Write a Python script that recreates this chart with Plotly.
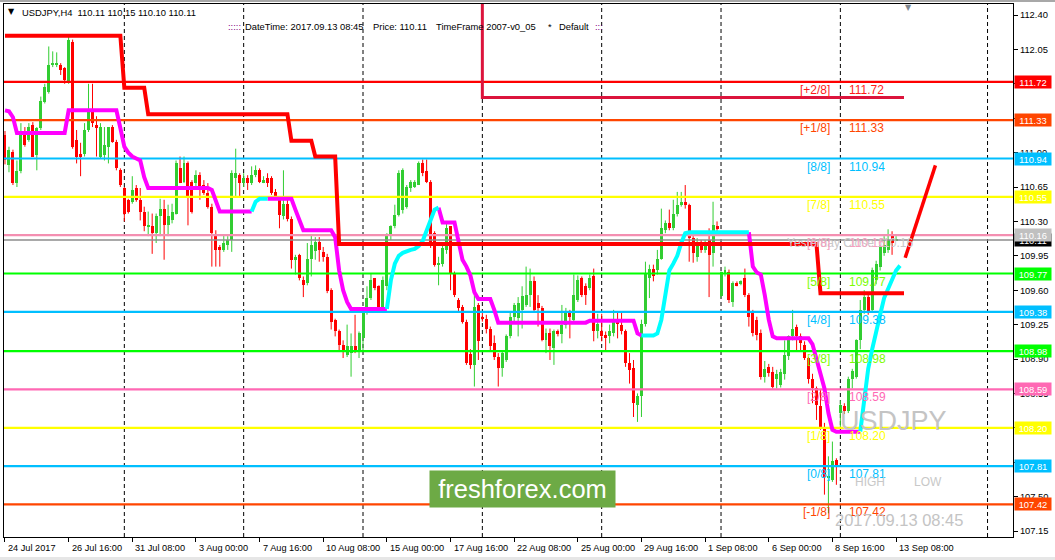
import plotly.graph_objects as go

# ---------------- data ----------------
opens = [111.18, 110.87, 111.01, 110.69, 110.81, 111.18, 111.13, 111.28, 110.98, 111.25,
         111.52, 111.62, 111.90, 111.90, 111.89, 111.86, 111.72, 112.13, 111.13, 110.99,
         110.99, 111.23, 111.42, 111.28, 110.96, 110.98, 111.06, 111.26, 111.11, 110.82,
         110.64, 110.52, 110.50, 110.64, 110.52, 110.40, 110.25, 110.25, 110.18, 110.35,
         110.43, 110.26, 110.31, 110.38, 110.84, 110.70, 110.89, 110.70, 110.69, 110.77,
         110.67, 110.59, 110.45, 110.15, 110.04, 110.01, 110.06, 110.11, 110.74, 110.77,
         110.69, 110.74, 110.69, 110.77, 110.82, 110.70, 110.74, 110.74, 110.60, 110.54,
         110.35, 110.48, 110.32, 109.91, 109.96, 109.70, 109.67, 109.92, 110.00, 110.09,
         109.99, 109.94, 109.60, 109.30, 109.18, 109.04, 108.94, 108.96, 109.03, 108.99,
         109.11, 109.37, 109.52, 109.72, 109.64, 109.43, 109.64, 110.16, 110.25, 110.37,
         110.42, 110.45, 110.64, 110.65, 110.67, 110.89, 110.81, 110.70, 110.18, 109.86,
         109.87, 110.01, 110.25, 109.77, 109.50, 109.43, 109.28, 108.95, 108.84, 109.45,
         109.33, 109.31, 109.21, 109.06, 108.92, 108.81, 108.89, 109.13, 109.33, 109.32,
         109.40, 109.45, 109.55, 109.69, 109.47, 109.42, 109.09, 109.16, 109.01, 109.18,
         109.15, 109.25, 109.37, 109.30, 109.50, 109.72, 109.64, 109.62, 109.74, 109.18,
         109.18, 109.14, 109.13, 109.16, 109.30, 109.25, 109.18, 108.86, 108.81, 108.43,
         108.52, 109.26, 109.72, 109.82, 109.81, 109.92, 110.21, 110.28, 110.23, 110.38,
         110.47, 110.50, 110.47, 110.13, 109.94, 110.09, 110.01, 110.11, 109.98, 110.25,
         109.54, 109.77, 109.79, 109.48, 109.67, 109.67, 109.72, 109.55, 109.38, 109.30,
         109.16, 108.72, 108.82, 108.77, 108.70, 108.64, 108.75, 108.93, 109.13, 109.23,
         109.13, 109.04, 108.91, 108.70, 108.60, 108.42, 108.21, 107.69, 107.67, 107.87,
         108.35, 108.42, 108.37, 108.70, 108.72, 109.09, 109.40, 109.53, 109.40, 109.70,
         109.84, 109.98, 110.01, 110.15, 110.11]

highs = [111.22, 111.06, 111.03, 110.92, 111.30, 111.26, 111.30, 111.31, 111.26, 111.57,
         111.70, 112.08, 112.03, 112.02, 111.91, 111.87, 112.18, 112.15, 111.23, 111.10,
         111.30, 111.70, 111.70, 111.37, 111.30, 111.26, 111.26, 111.28, 111.13, 110.84,
         110.65, 110.53, 110.76, 110.67, 110.64, 110.45, 110.40, 110.38, 110.38, 110.53,
         110.52, 110.47, 110.48, 110.92, 110.96, 110.96, 110.91, 110.72, 110.82, 110.80,
         110.72, 110.69, 110.48, 110.21, 110.06, 110.16, 110.15, 110.82, 111.04, 110.79,
         110.79, 110.77, 110.86, 110.87, 110.84, 110.76, 110.79, 110.76, 110.63, 110.55,
         110.82, 110.55, 110.35, 109.96, 109.97, 109.74, 110.08, 110.16, 110.14, 110.14,
         110.04, 109.97, 109.62, 109.31, 109.20, 109.09, 109.25, 109.16, 109.35, 109.18,
         109.38, 109.64, 109.77, 109.72, 109.65, 109.74, 110.18, 110.26, 110.47, 110.82,
         110.84, 110.67, 110.72, 110.72, 110.91, 110.93, 110.93, 110.72, 110.20, 109.94,
         110.06, 110.28, 110.25, 109.79, 109.52, 109.45, 109.30, 109.00, 109.58, 109.47,
         109.37, 109.35, 109.23, 109.14, 108.96, 108.99, 109.15, 109.37, 109.47, 109.53,
         109.64, 109.84, 109.82, 109.74, 109.55, 109.44, 109.21, 109.21, 109.20, 109.20,
         109.45, 109.42, 109.40, 109.76, 109.75, 109.74, 109.67, 109.76, 109.82, 109.36,
         109.36, 109.18, 109.25, 109.40, 109.38, 109.37, 109.20, 108.96, 108.89, 108.55,
         109.30, 109.89, 109.86, 109.86, 110.01, 110.43, 110.31, 110.42, 110.52, 110.60,
         110.60, 110.67, 110.48, 110.15, 110.13, 110.11, 110.11, 110.23, 110.50, 110.30,
         109.79, 109.84, 109.81, 109.69, 109.69, 109.70, 109.82, 109.57, 109.40, 109.33,
         109.20, 108.88, 108.85, 108.82, 108.79, 108.80, 109.09, 109.14, 109.40, 109.25,
         109.16, 109.08, 108.92, 108.75, 108.62, 108.59, 108.25, 107.91, 108.06, 107.89,
         108.48, 108.45, 108.72, 108.80, 109.10, 109.50, 109.60, 109.56, 109.83, 109.90,
         110.06, 110.15, 110.22, 110.20, 110.15]

lows = [110.88, 110.80, 110.67, 110.65, 110.79, 111.06, 111.11, 110.96, 110.82, 111.23,
        111.50, 111.60, 111.87, 111.87, 111.79, 111.70, 111.70, 111.04, 110.89, 110.76,
        110.96, 111.21, 111.26, 110.96, 110.94, 110.92, 110.89, 111.10, 110.82, 110.65,
        110.30, 110.38, 110.48, 110.50, 110.31, 110.20, 110.15, 109.97, 110.08, 110.15,
        109.91, 110.15, 110.28, 110.37, 110.69, 110.69, 110.26, 110.38, 110.65, 110.52,
        110.57, 110.43, 109.84, 109.84, 109.84, 109.99, 110.01, 109.99, 110.55, 110.55,
        110.65, 110.62, 110.67, 110.75, 110.69, 110.69, 110.65, 110.57, 110.54, 110.23,
        110.32, 110.30, 109.82, 109.76, 109.70, 109.53, 109.65, 109.74, 109.91, 109.89,
        109.89, 109.57, 109.20, 109.13, 108.99, 108.91, 108.92, 108.72, 108.96, 108.91,
        108.99, 109.35, 109.50, 109.60, 109.42, 109.42, 109.60, 110.11, 110.23, 110.35,
        110.38, 110.43, 110.60, 110.64, 110.67, 110.76, 110.69, 110.03, 109.84, 109.65,
        109.84, 109.97, 109.60, 109.53, 109.38, 109.26, 108.84, 108.80, 108.62, 108.89,
        109.28, 109.16, 108.99, 108.89, 108.62, 108.72, 108.87, 109.11, 109.26, 109.13,
        109.21, 109.43, 109.43, 109.37, 109.23, 109.08, 108.96, 108.89, 108.84, 109.13,
        109.06, 109.21, 109.11, 109.28, 109.48, 109.53, 109.45, 109.60, 109.08, 109.11,
        109.08, 108.99, 109.06, 109.13, 109.11, 109.15, 108.82, 108.65, 108.31, 108.26,
        108.31, 109.23, 109.52, 109.69, 109.76, 109.91, 110.18, 110.21, 110.21, 110.35,
        110.45, 110.43, 109.89, 109.88, 109.89, 109.98, 109.98, 109.53, 109.84, 110.18,
        109.52, 109.74, 109.47, 109.43, 109.64, 109.65, 109.53, 109.23, 109.13, 109.09,
        108.69, 108.66, 108.72, 108.60, 108.60, 108.61, 108.69, 108.89, 109.09, 108.99,
        108.99, 108.89, 108.65, 108.45, 108.28, 108.18, 107.52, 107.33, 107.65, 107.62,
        108.20, 108.34, 108.35, 108.60, 108.70, 109.00, 109.36, 109.35, 109.38, 109.66,
        109.80, 109.95, 109.98, 109.96, 110.10]

closes = [110.92, 111.03, 110.69, 110.81, 111.18, 111.08, 111.26, 110.96, 111.25, 111.53,
          111.67, 111.89, 111.91, 111.91, 111.84, 111.74, 112.15, 111.06, 110.96, 110.96,
          111.23, 111.42, 111.30, 111.25, 111.26, 111.08, 111.26, 111.11, 110.84, 110.67,
          110.38, 110.40, 110.62, 110.52, 110.40, 110.25, 110.26, 110.18, 110.35, 110.43,
          110.26, 110.35, 110.40, 110.89, 110.69, 110.89, 110.55, 110.40, 110.77, 110.65,
          110.59, 110.45, 110.18, 110.01, 110.01, 110.08, 110.11, 110.79, 110.79, 110.69,
          110.74, 110.69, 110.77, 110.82, 110.70, 110.72, 110.69, 110.59, 110.56, 110.37,
          110.48, 110.32, 109.91, 109.94, 109.72, 109.65, 109.92, 110.06, 110.09, 110.01,
          109.94, 109.59, 109.28, 109.18, 109.04, 108.99, 109.03, 109.03, 108.99, 109.16,
          109.37, 109.52, 109.70, 109.62, 109.43, 109.70, 110.15, 110.25, 110.37, 110.79,
          110.82, 110.65, 110.70, 110.70, 110.89, 110.79, 110.70, 110.08, 109.86, 109.87,
          110.03, 110.23, 109.77, 109.55, 109.42, 109.28, 108.86, 108.84, 109.43, 109.08,
          109.31, 109.21, 109.03, 108.92, 108.81, 108.96, 109.13, 109.33, 109.45, 109.47,
          109.54, 109.55, 109.69, 109.40, 109.42, 109.09, 109.16, 109.03, 109.18, 109.15,
          109.25, 109.38, 109.33, 109.55, 109.70, 109.55, 109.55, 109.72, 109.18, 109.26,
          109.13, 109.11, 109.18, 109.28, 109.26, 109.18, 108.86, 108.79, 108.45, 108.52,
          109.26, 109.77, 109.82, 109.74, 109.92, 110.23, 110.28, 110.23, 110.38, 110.47,
          110.50, 110.47, 110.13, 109.98, 110.09, 110.01, 110.08, 109.96, 110.26, 110.23,
          109.79, 109.81, 109.50, 109.67, 109.65, 109.69, 109.55, 109.33, 109.16, 109.14,
          108.72, 108.80, 108.76, 108.62, 108.75, 108.77, 108.94, 109.13, 109.21, 109.13,
          109.06, 108.91, 108.70, 108.60, 108.43, 108.21, 107.70, 107.71, 107.86, 107.82,
          108.43, 108.37, 108.70, 108.78, 109.09, 109.40, 109.53, 109.38, 109.81, 109.87,
          110.04, 110.06, 110.11, 110.08, 110.11]

# trailing-stop step line (red), one value per bar
stop_line = ([112.19] * 30 + [111.66] * 6 + [111.39] * 36 + [111.12] * 6 +
             [110.96] * 6 + [110.07] * 121 + [109.57] * 22)

# trend line: magenta while falling, cyan while rising (None = other colour)
trend_down = ([111.43, 111.42, 111.36, 111.20] + [111.20] * 12 + [111.43] * 13 +
              [111.25, 111.06, 111.00, 110.96, 110.94, 110.92, 110.75, 110.64] + [110.64] * 15 +
              [110.62, 110.50, 110.40] + [110.40] * 8 + [None] * 3 + [110.53] * 7 +
              [110.42, 110.31, 110.21] + [110.21] * 7 + [110.14, 109.80, 109.60, 109.48, 109.41] +
              [109.41] * 9 + [None] * 12 + [110.44, 110.29] + [110.29] * 3 +
              [110.10, 109.91, 109.84, 109.75, 109.58, 109.51] + [109.51] * 3 + [109.40, 109.27] +
              [109.27] * 22 + [109.29] + [109.29] * 11 + [109.16, 109.14] + [None] * 26 +
              [110.19, 109.84, 109.78, 109.76, 109.55, 109.30, 109.13] + [109.11] * 9 +
              [109.05, 108.90, 108.75, 108.60, 108.35, 108.18] + [108.16] * 7 + [None] * 10)

trend_up = ([None] * 62 + [110.40, 110.50, 110.53, 110.53, 110.53] + [None] * 29 +
            [109.41, 109.70, 109.87, 109.95, 109.98, 110.00, 110.01, 110.02, 110.05, 110.10,
             110.21, 110.31, 110.42, 110.44] + [None] * 50 +
            [109.14, 109.14, 109.14, 109.14, 109.16, 109.30, 109.55, 109.80, 109.87, 109.95,
             110.08, 110.18] + [110.19] * 16 + [None] * 27 +
            [108.16, 108.45, 108.80, 109.00, 109.20, 109.35, 109.52, 109.62, 109.70, 109.80, 109.85])

crimson_start_bar = 120
crimson_level = 111.56
crimson_end_bar = 226

projection_bars = [226.3, 233.9]
projection_prices = [109.93, 110.87]

murrey_names = ["[-1/8]", "[0/8]", "[1/8]", "[2/8]", "[3/8]", "[4/8]", "[5/8]",
                "[6/8]", "[7/8]", "[8/8]", "[+1/8]", "[+2/8]"]
murrey_levels = [107.42, 107.81, 108.20, 108.59, 108.98, 109.38, 109.77,
                 110.16, 110.55, 110.94, 111.33, 111.72]
murrey_colors = ["#FF4500", "#00BFFF", "#FFFF00", "#FF69B4", "#00FF00", "#00BFFF", "#00FF00",
                 "#F48FB1", "#FFFF00", "#00BFFF", "#FF4500", "#FF0000"]
murrey_text_colors = ["#FF4500", "#00BFFF", "#FFFF00", "#FF69B4", "#7CFC00", "#00BFFF", "#7CFC00",
                      "#F4A0C0", "#FFFF00", "#00BFFF", "#FF4500", "#FF1A1A"]
murrey_box_colors = ["#FF4500", "#00BFFF", "#FFFF00", "#FF69B4", "#00FF00", "#00BFFF", "#00FF00",
                     "#C0C0C0", "#FFFF00", "#00BFFF", "#FF4500", "#FF0000"]

current_price = 110.11
yesterday_close_text = "Yesterday Close 110.16"

x_tick_bars = [0, 16, 32, 48, 64, 80, 96, 112, 128, 144, 160, 176, 192, 208, 224]
x_tick_labels = ["24 Jul 2017", "26 Jul 16:00", "31 Jul 08:00", "3 Aug 00:00", "7 Aug 16:00",
                 "10 Aug 08:00", "15 Aug 00:00", "17 Aug 16:00", "22 Aug 08:00", "25 Aug 00:00",
                 "29 Aug 16:00", "1 Sep 08:00", "6 Sep 00:00", "8 Sep 16:00", "13 Sep 08:00"]
week_separator_bars = [30, 60, 90, 120, 150, 180, 210, 247]

# axis ticks; labels that sit fully under a price box are left blank
y_tick_values = [107.15, 107.50, 107.85, 108.20, 108.55, 108.90, 109.25, 109.60,
                 109.95, 110.30, 110.65, 111.00, 111.35, 111.70, 112.05, 112.40]
y_tick_labels = ["107.15", "107.50", "", "", "108.55", "108.90", "109.25", "109.60",
                 "109.95", "110.30", "110.65", "111.00", "", "", "112.05", "112.40"]

# ---------------- layout constants ----------------
W, H = 1055, 560
L, R, T, B = 4, 42, 4, 23
X_RANGE = [-0.25, 253.4]
Y_RANGE = [107.089, 112.512]
FONT = "Liberation Sans, Arial, sans-serif"
BULL = "#32CD32"
BEAR = "#FF0000"


def pxx(x):
    return (x - L) / (W - L - R)


def pxy(y):
    return 1 - (y - T) / (H - T - B)


fig = go.Figure()

# week separators (dashed verticals)
for b in week_separator_bars:
    fig.add_shape(type="line", xref="x", yref="paper", x0=b, x1=b, y0=0, y1=1,
                  line=dict(color="black", width=1, dash="4px,3px"), layer="below")

# window frame strips (top / bottom)
fig.add_shape(type="rect", xref="paper", yref="paper", x0=pxx(0), x1=pxx(W), y0=pxy(2), y1=pxy(0),
              line=dict(width=0), fillcolor="#A8A8A8", layer="above")
fig.add_shape(type="rect", xref="paper", yref="paper", x0=pxx(0), x1=pxx(W), y0=pxy(H), y1=pxy(557),
              line=dict(width=0), fillcolor="#E6E6E6", layer="above")

# candles
bars = list(range(len(opens)))
for up, col in ((True, BULL), (False, BEAR)):
    idx = [i for i in bars if (closes[i] >= opens[i]) == up]
    wx, wy = [], []
    for i in idx:
        wx += [i, i, None]
        wy += [lows[i], highs[i], None]
    fig.add_trace(go.Scatter(x=wx, y=wy, mode="lines", line=dict(color=col, width=1),
                             hoverinfo="skip", showlegend=False))
    fig.add_trace(go.Bar(x=idx,
                         y=[max(abs(closes[i] - opens[i]), 0.012) for i in idx],
                         base=[min(opens[i], closes[i]) for i in idx],
                         width=0.75, marker=dict(color=col, line=dict(width=0)),
                         hoverinfo="skip", showlegend=False))

# Murrey math levels
for lvl, col in zip(murrey_levels, murrey_colors):
    fig.add_trace(go.Scatter(x=X_RANGE, y=[lvl, lvl], mode="lines",
                             line=dict(color=col, width=2.2), hoverinfo="skip", showlegend=False))
# current price line
fig.add_trace(go.Scatter(x=X_RANGE, y=[current_price, current_price], mode="lines",
                         line=dict(color="#8C8C8C", width=1.5), hoverinfo="skip", showlegend=False))

# indicator lines
ind_x = list(range(len(trend_down)))
fig.add_trace(go.Scatter(x=ind_x, y=trend_down, mode="lines", connectgaps=False,
                         line=dict(color="#FF00FF", width=4), hoverinfo="skip", showlegend=False))
fig.add_trace(go.Scatter(x=ind_x, y=trend_up, mode="lines", connectgaps=False,
                         line=dict(color="#00FFFF", width=4), hoverinfo="skip", showlegend=False))
fig.add_trace(go.Scatter(x=list(range(len(stop_line))), y=stop_line, mode="lines",
                         line=dict(color="#FF0000", width=4), hoverinfo="skip", showlegend=False))
fig.add_trace(go.Scatter(x=[crimson_start_bar, crimson_start_bar, crimson_end_bar],
                         y=[Y_RANGE[1] + 0.1, crimson_level, crimson_level], mode="lines",
                         line=dict(color="#DC143C", width=3), hoverinfo="skip", showlegend=False))
fig.add_trace(go.Scatter(x=projection_bars, y=projection_prices, mode="lines",
                         line=dict(color="#FF0000", width=3.5), hoverinfo="skip", showlegend=False))

ann = []
# yesterday close text (under the 6/8 label)
ann.append(dict(x=pxx(785), y=murrey_levels[7], xref="paper", yref="y", text=yesterday_close_text,
                showarrow=False, xanchor="left", yanchor="middle", yshift=-8,
                font=dict(family=FONT, size=12, color="#C8C8C8")))
# Murrey labels inside the chart
for name, lvl, tc in zip(murrey_names, murrey_levels, murrey_text_colors):
    ann.append(dict(x=pxx(832), y=lvl, xref="paper", yref="y", text=name, showarrow=False,
                    xanchor="right", yanchor="middle", yshift=-8,
                    font=dict(family=FONT, size=12, color=tc)))
    ann.append(dict(x=pxx(847), y=lvl, xref="paper", yref="y", text=f"{lvl:.2f}", showarrow=False,
                    xanchor="left", yanchor="middle", yshift=-8,
                    font=dict(family=FONT, size=12, color=tc)))

# price boxes on the right axis (current price first, Murrey boxes drawn over it)
box_vals = [current_price] + murrey_levels
box_cols = ["#000000"] + murrey_box_colors
for v, c in zip(box_vals, box_cols):
    ann.append(dict(x=1, y=v, xref="paper", yref="y", text=f"{v:.2f}", showarrow=False,
                    xanchor="left", yanchor="middle", xshift=1, width=36, height=12,
                    bgcolor=c, borderpad=0,
                    font=dict(family=FONT, size=9.4, color="white")))

# x axis labels
for b, lab in zip(x_tick_bars, x_tick_labels):
    ann.append(dict(x=b, y=0, xref="x", yref="paper", text=lab, showarrow=False,
                    xanchor="left", yanchor="top", yshift=-4, xshift=1,
                    font=dict(family=FONT, size=9.2, color="black")))

# header
ann.append(dict(x=pxx(11.5), y=pxy(12), xref="paper", yref="paper", text="▼", showarrow=False,
                xanchor="center", yanchor="middle", font=dict(family="DejaVu Sans", size=8, color="black")))
ann.append(dict(x=pxx(20), y=pxy(12.5), xref="paper", yref="paper",
                text="USDJPY,H4  110.11 110.15 110.10 110.11", showarrow=False,
                xanchor="left", yanchor="middle", font=dict(family=FONT, size=9.4, color="black")))
header2 = [(226, ":::::", "#800080"), (243, "DateTime: 2017.09.13 08:45", "black"),
           (371, "Price: 110.11", "black"), (434, "TimeFrame 2007-v0_05", "black"),
           (546, "*", "black"), (557, "Default", "black"), (593, ":::", "#800080")]
for x0, t, c in header2:
    ann.append(dict(x=pxx(x0), y=pxy(26), xref="paper", yref="paper", text=t, showarrow=False,
                    xanchor="left", yanchor="middle", font=dict(family=FONT, size=9.4, color=c)))
ann.append(dict(x=pxx(908), y=pxy(7), xref="paper", yref="paper", text="▼", showarrow=False,
                xanchor="center", yanchor="middle", font=dict(family="DejaVu Sans", size=8, color="#808890")))

# watermark texts
ann.append(dict(x=pxx(893), y=pxy(421), xref="paper", yref="paper", text="USDJPY", showarrow=False,
                xanchor="center", yanchor="middle", font=dict(family=FONT, size=27, color="#C4C4C4")))
ann.append(dict(x=pxx(870), y=pxy(482), xref="paper", yref="paper", text="HIGH", showarrow=False,
                xanchor="center", yanchor="middle", font=dict(family=FONT, size=12, color="#C8C8C8")))
ann.append(dict(x=pxx(928), y=pxy(482), xref="paper", yref="paper", text="LOW", showarrow=False,
                xanchor="center", yanchor="middle", font=dict(family=FONT, size=12, color="#C8C8C8")))
ann.append(dict(x=pxx(898.5), y=pxy(520), xref="paper", yref="paper", text="2017.09.13 08:45",
                showarrow=False, xanchor="center", yanchor="middle",
                font=dict(family=FONT, size=16.5, color="#C4C4C4")))
ann.append(dict(x=pxx(522), y=pxy(489), xref="paper", yref="paper", text="freshforex.com",
                showarrow=False, xanchor="center", yanchor="middle", width=185, height=36,
                bgcolor="#6DAA45", borderpad=0,
                font=dict(family=FONT, size=25.5, color="white")))

fig.update_layout(
    width=W, height=H, margin=dict(l=L, r=R, t=T, b=B),
    paper_bgcolor="white", plot_bgcolor="white", barmode="overlay", bargap=0,
    showlegend=False, annotations=ann, hovermode=False,
    xaxis=dict(range=X_RANGE, showgrid=False, zeroline=False, showline=True, linecolor="black",
               linewidth=1, mirror=True, ticks="outside", ticklen=4, tickcolor="black",
               tickvals=x_tick_bars, showticklabels=False, fixedrange=True),
    yaxis=dict(range=Y_RANGE, side="right", showgrid=False, zeroline=False, showline=True,
               linecolor="black", linewidth=1, mirror=True, ticks="outside", ticklen=4,
               tickcolor="black", tickvals=y_tick_values, ticktext=y_tick_labels,
               tickfont=dict(family=FONT, size=9.4, color="black"), fixedrange=True),
)

fig.write_html("out.html", config={"displayModeBar": False},
               post_script="document.body.style.margin='0';document.body.style.overflow='hidden';")
